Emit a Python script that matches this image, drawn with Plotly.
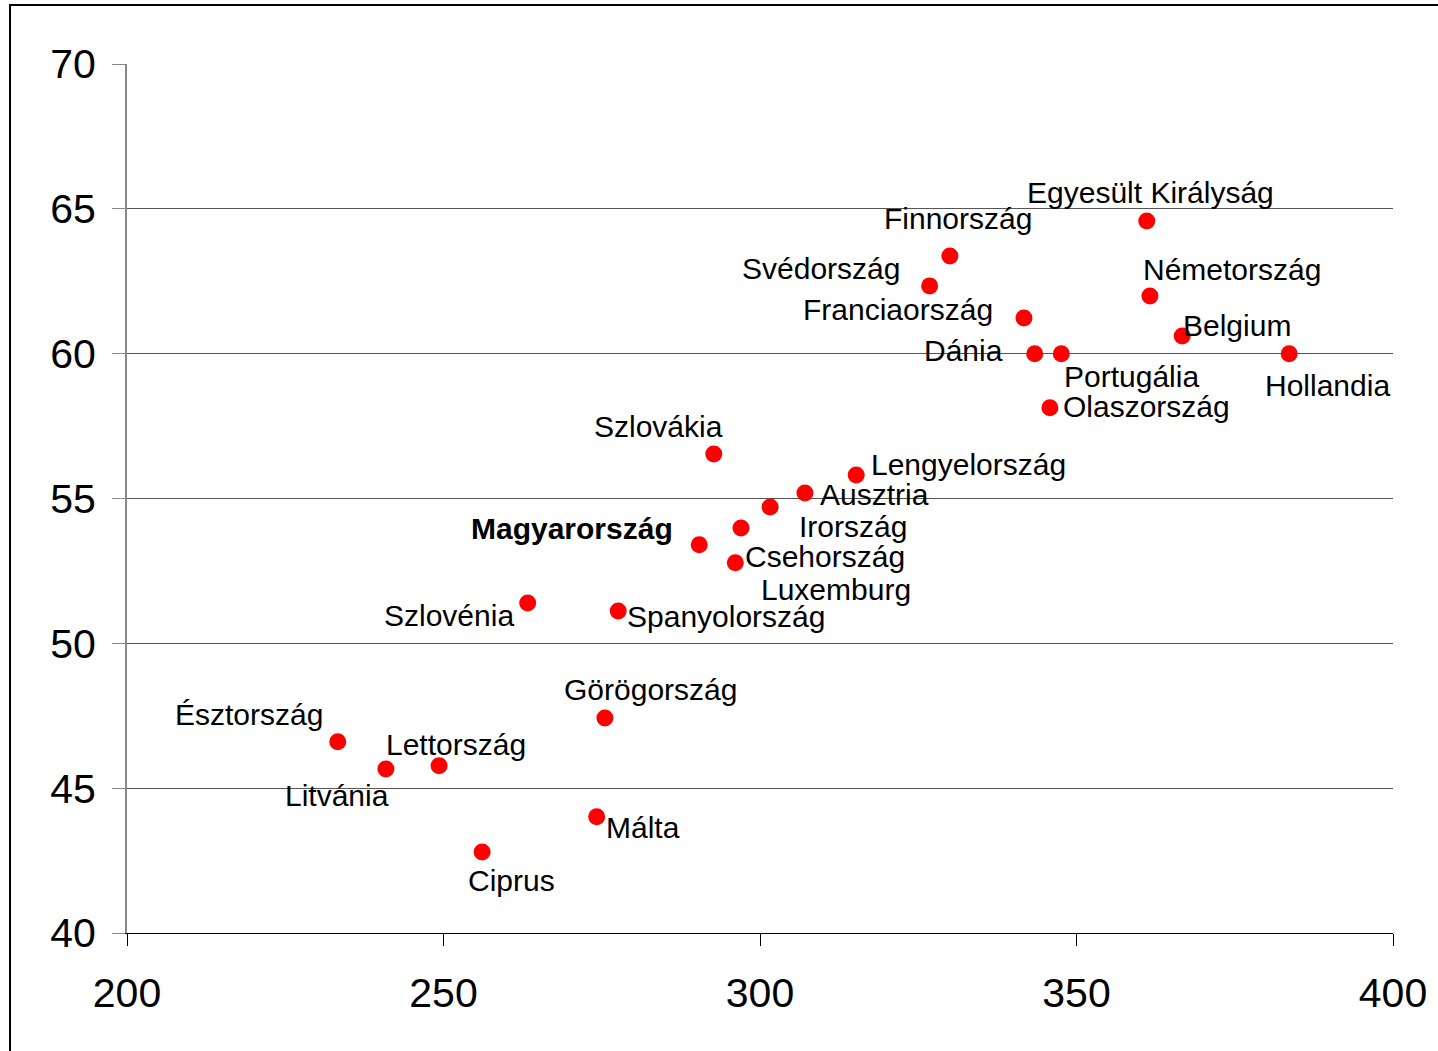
import plotly.graph_objects as go

countries = ["Egyesült Királyság", "Finnország", "Svédország", "Franciaország", "Németország",
             "Belgium", "Dánia", "Portugália", "Hollandia", "Olaszország",
             "Szlovákia", "Lengyelország", "Ausztria", "Irország", "Csehország",
             "Luxemburg", "Magyarország", "Szlovénia", "Spanyolország", "Görögország",
             "Észtország", "Lettország", "Litvánia", "Málta", "Ciprus"]
x_vals = [361.1, 330.0, 326.8, 341.7, 361.6,
          366.7, 343.4, 347.6, 383.6, 345.8,
          292.7, 315.2, 307.1, 301.6, 297.0,
          296.1, 290.4, 263.3, 277.6, 275.5,
          233.3, 249.3, 240.9, 274.2, 256.1]
y_vals = [64.58, 63.37, 62.34, 61.23, 61.99,
          60.61, 60.0, 60.0, 60.0, 58.13,
          56.54, 55.81, 55.19, 54.71, 53.98,
          52.78, 53.40, 51.39, 51.12, 47.42,
          46.60, 45.77, 45.66, 44.01, 42.80]
# label offsets in pixels (dx right, dy up)
label_dx = [4, 8, -109, -126, 82, 55, -71, 70, 38, 97, -55, 112, 70, 83, 84,
            101, -127, -79, 108, 46, -89, 17, -49, 46, 29]
label_dy = [29, 38, 17, 9, 27, 11, 3, -23, -32, 1, 27, 11, -1, -20, -28,
            -27, 16, -12, -6, 29, 27, 21, -26, -11, -29]

x_ticks = [200, 250, 300, 350, 400]
y_ticks = [40, 45, 50, 55, 60, 65, 70]

FONT = "Liberation Sans, Arial, sans-serif"

fig = go.Figure()
fig.add_trace(go.Scatter(
    x=x_vals, y=y_vals, mode="markers",
    marker=dict(color="#FF0000", size=17, line=dict(width=0)),
    hoverinfo="skip", showlegend=False))

for name, xv, yv, dx, dy in zip(countries, x_vals, y_vals, label_dx, label_dy):
    txt = f"<b>{name}</b>" if name == "Magyarország" else name
    fig.add_annotation(x=xv, y=yv, text=txt, showarrow=False,
                       xshift=dx, yshift=dy, xanchor="center", yanchor="middle",
                       borderpad=0,
                       font=dict(family=FONT, size=30, color="black"))

fig.update_xaxes(range=[200, 400], tickvals=x_ticks, ticktext=[str(t) for t in x_ticks],
                 showgrid=False, showline=True, linecolor="black", linewidth=1,
                 ticks="outside", ticklen=12, tickcolor="black", tickwidth=1,
                 tickfont=dict(family=FONT, size=41, color="black"),
                 ticklabelstandoff=12, zeroline=False)
fig.update_yaxes(range=[40, 70], tickvals=y_ticks, ticktext=[str(t) for t in y_ticks],
                 showgrid=True, gridcolor="#555555", gridwidth=1,
                 showline=True, linecolor="#888888", linewidth=2,
                 ticks="outside", ticklen=13, tickcolor="#888888", tickwidth=1,
                 tickfont=dict(family=FONT, size=41, color="black"),
                 ticklabelstandoff=8, zeroline=False)

# outer frame
fig.add_shape(type="rect", xref="paper", yref="paper",
              x0=-0.0924, x1=1.1, y0=-0.2, y1=1.0679,
              line=dict(color="black", width=2), fillcolor="rgba(0,0,0,0)", layer="below")

fig.update_layout(width=1438, height=1051,
                  margin=dict(l=127, r=45, t=64, b=118),
                  plot_bgcolor="white", paper_bgcolor="white",
                  font=dict(family=FONT))

fig.write_html("out.html", config={"displayModeBar": False},
               post_script="document.body.style.margin='0px';")
